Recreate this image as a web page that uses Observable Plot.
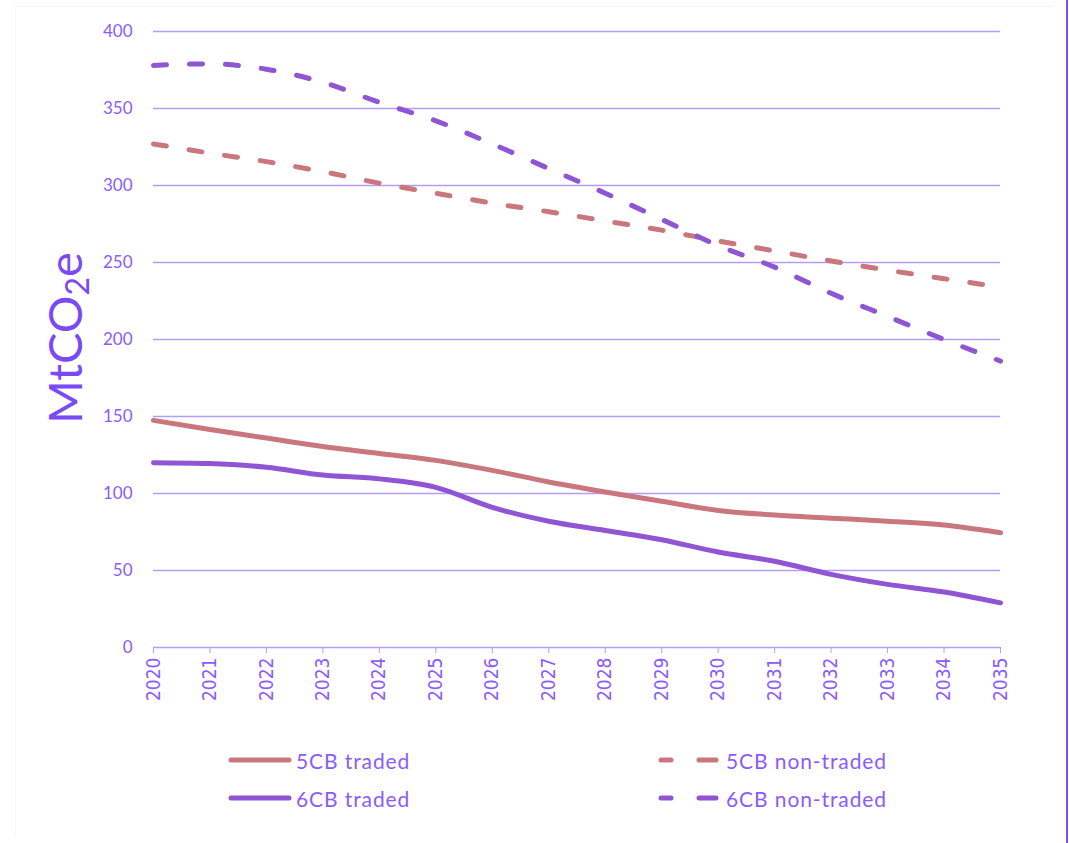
<!DOCTYPE html>
<html>
<head>
<meta charset="utf-8">
<script src="https://cdn.jsdelivr.net/npm/d3@7"></script>
<script src="https://cdn.jsdelivr.net/npm/@observablehq/plot@0.6"></script>
<style>
  html, body { margin: 0; padding: 0; background: #fff; }
  #wrap { position: relative; width: 1069px; height: 843px; overflow: hidden; }
  #frame { position: absolute; left: 15px; top: 6px; width: 1037px; height: 830px; border-top: 1px solid #f3f3f3; border-left: 1px solid #f6f6f6; }
  #vline { position: absolute; left: 1066px; top: 0; width: 2px; height: 843px; background: #7c4dff; }
  #chart { position: absolute; left: 0; top: 0; }
  .leg { position: absolute; font-family: "Lato", "DejaVu Sans", sans-serif; font-size: 21px; letter-spacing: 0.9px; color: #8b5bff; display: flex; align-items: center; }
  .leg svg { margin-right: 3px; }
</style>
</head>
<body>
<div id="wrap">
  <div id="frame"></div>
  <div id="chart"></div>
  <div id="legend"></div>
  <div id="vline"></div>
</div>
<script>
const years = [2020,2021,2022,2023,2024,2025,2026,2027,2028,2029,2030,2031,2032,2033,2034,2035];
const cb5Traded    = [147.5,141.5,136,130.5,126,121.5,115,107.5,101,95,89,86,84,82,79.5,74.5];
const cb6Traded    = [120,119.5,117,112,109.5,104,91,82,76,70,62,56,47.5,41,36,29];
const cb5NonTraded = [327,321,315.5,309,301.5,295,288.5,283,277,271,264,257.5,251,245,239.5,234];
const cb6NonTraded = [378,379,375.5,367,354,342,327,311,295,278,261,247,230,215,200,186];
const yTicks = [0,50,100,150,200,250,300,350,400];
const seriesNames = ["5CB traded","6CB traded","5CB non-traded","6CB non-traded"];
const seriesColors = ["#c9777d","#8f55d3","#c9777d","#8f55d3"];
const seriesDashed = [false,false,true,true];

const allSeries = [cb5Traded, cb6Traded, cb5NonTraded, cb6NonTraded];
const rows = [];
allSeries.forEach((vals, i) => vals.forEach((v, j) => rows.push({series: seriesNames[i], year: years[j], value: v})));

const gridColor = "#b49cff";
const textColor = "#8b5bff";

const marks = [
  Plot.ruleY(yTicks, {y: d => d, stroke: gridColor, strokeWidth: 1.3}),
  Plot.axisY({ticks: yTicks, tickSize: 0, tickPadding: 21, fontSize: 17, fill: textColor, label: null,
    fontFamily: "Lato, 'DejaVu Sans', sans-serif"}),
  Plot.axisX({ticks: years, tickFormat: d => String(d), tickRotate: -90, tickSize: 6, tickPadding: 4,
    fontSize: 19, fill: textColor, stroke: gridColor, label: null,
    fontFamily: "'Liberation Sans Narrow', 'DejaVu Sans Condensed', sans-serif"}),
];
seriesNames.forEach((name, i) => {
  marks.push(Plot.line(rows.filter(r => r.series === name), {
    x: "year", y: "value", stroke: seriesColors[i], strokeWidth: 5,
    curve: "monotone-x", strokeLinecap: "round",
    strokeDasharray: seriesDashed[i] ? "13,23" : null
  }));
});

const chart = Plot.plot({
  width: 1069,
  height: 712,
  marginLeft: 153,
  marginRight: 69,
  marginTop: 31,
  marginBottom: 65,
  x: {domain: [2020, 2035]},
  y: {domain: [0, 400]},
  style: {background: "transparent", overflow: "visible"},
  marks
});
document.getElementById("chart").appendChild(chart);

// y axis title with subscript
const svg = d3.select(chart);
const t = svg.append("text")
  .attr("transform", "translate(82,338) rotate(-90)")
  .attr("text-anchor", "middle")
  .attr("fill", "#7a4af5")
  .attr("font-family", "Lato, 'DejaVu Sans', sans-serif")
  .attr("font-size", 47);
t.append("tspan").text("MtCO");
t.append("tspan").attr("font-size", 32).attr("dy", 7).text("2");
t.append("tspan").attr("dy", -7).text("e");

// legend
const legendPos = [[226,760],[226,798],[656,760],[656,798]];
const legend = document.getElementById("legend");
seriesNames.forEach((name, i) => {
  const div = document.createElement("div");
  div.className = "leg";
  div.style.left = legendPos[i][0] + "px";
  div.style.top = (legendPos[i][1] - 14) + "px";
  const c = seriesColors[i];
  const lines = seriesDashed[i]
    ? `<line x1="5" x2="15" y1="14" y2="14" stroke="${c}" stroke-width="5" stroke-linecap="round"/><line x1="43" x2="60" y1="14" y2="14" stroke="${c}" stroke-width="5" stroke-linecap="round"/>`
    : `<line x1="5" x2="63" y1="14" y2="14" stroke="${c}" stroke-width="5" stroke-linecap="round"/>`;
  div.innerHTML = `<svg width="67" height="28">${lines}</svg><span>${name}</span>`;
  legend.appendChild(div);
});
</script>
</body>
</html>
